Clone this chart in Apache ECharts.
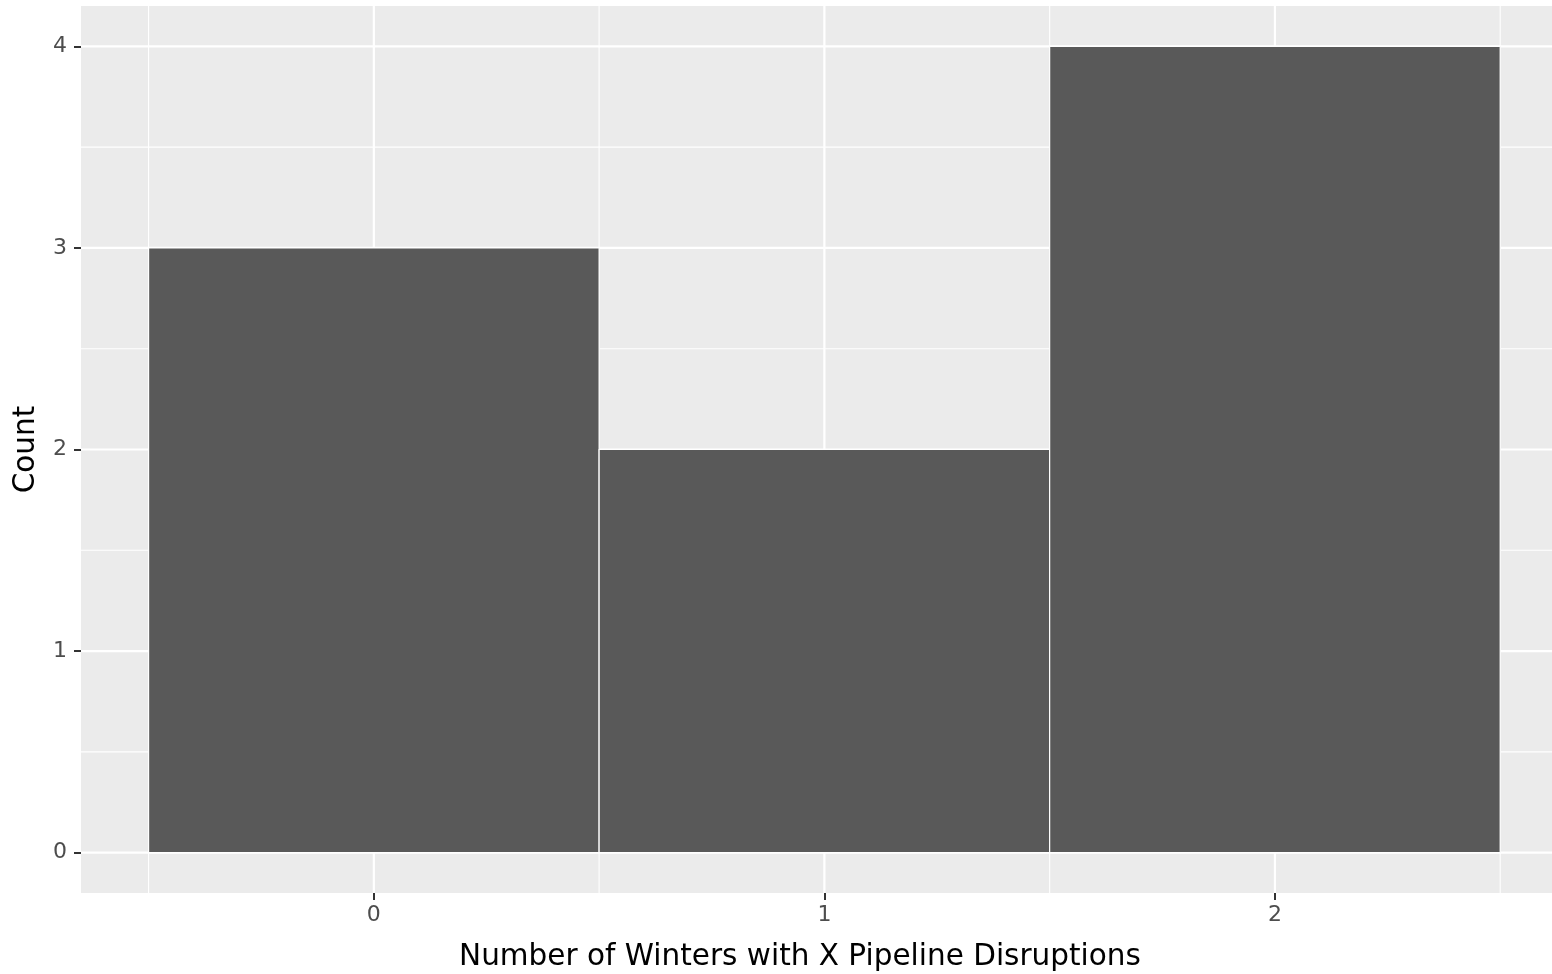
<!DOCTYPE html>
<html>
<head>
<meta charset="utf-8">
<script src="https://cdn.jsdelivr.net/npm/echarts@6/dist/echarts.min.js"></script>
<style>html,body{margin:0;padding:0;background:#fff;}#c{width:1552px;height:974px;}</style>
</head>
<body>
<div id="c"></div>
<script>
// Data
var binStarts = [-0.5, 0.5, 1.5];
var binEnds = [0.5, 1.5, 2.5];
var counts = [3, 2, 4];
var xTicks = [0, 1, 2];
var xMinor = [-0.5, 0.5, 1.5, 2.5];
var yTicks = [0, 1, 2, 3, 4];
var yMinor = [0.5, 1.5, 2.5, 3.5];
var xTitle = 'Number of Winters with X Pipeline Disruptions';
var yTitle = 'Count';

var chart = echarts.init(document.getElementById('c'), null, {renderer: 'canvas'});

function gridSeries(values, vertical, width) {
  return {
    type: 'custom',
    silent: true,
    z: 1,
    clip: true,
    data: values.map(function (v) { return vertical ? [v, 0] : [0, v]; }),
    encode: {x: 0, y: 1},
    renderItem: function (params, api) {
      var cs = params.coordSys;
      var p = api.coord([api.value(0), api.value(1)]);
      var shape = vertical
        ? {x1: p[0], y1: cs.y, x2: p[0], y2: cs.y + cs.height}
        : {x1: cs.x, y1: p[1], x2: cs.x + cs.width, y2: p[1]};
      return {type: 'line', shape: shape, style: {stroke: '#ffffff', lineWidth: width}};
    }
  };
}

var barData = binStarts.map(function (s, i) { return [s, binEnds[i], counts[i]]; });

var font = 'DejaVu Sans';

chart.setOption({
  animation: false,
  grid: {left: 81, top: 6, right: 0, bottom: 81, show: true, backgroundColor: '#ebebeb', borderWidth: 0,
         containLabel: false, outerBoundsMode: 'none'},
  xAxis: {
    type: 'value', min: -0.65, max: 2.615,
    splitLine: {show: false},
    axisLine: {show: false, onZero: false},
    axisTick: {show: true, length: 7, lineStyle: {color: '#333333', width: 2}, customValues: xTicks},
    axisLabel: {customValues: xTicks, color: '#4d4d4d', fontSize: 22, fontFamily: font, margin: 11},
    name: xTitle, nameLocation: 'middle', nameGap: 49,
    nameTextStyle: {color: '#000000', fontSize: 29.5, fontFamily: font, padding: [0, 33, 0, 0]}
  },
  yAxis: {
    type: 'value', min: -0.2, max: 4.2,
    splitLine: {show: false},
    axisLine: {show: false, onZero: false},
    axisTick: {show: true, length: 7, lineStyle: {color: '#333333', width: 2}, customValues: yTicks},
    axisLabel: {customValues: yTicks, color: '#4d4d4d', fontSize: 22, fontFamily: font, margin: 14},
    name: yTitle, nameLocation: 'middle', nameGap: 40, nameRotate: 90,
    nameTextStyle: {color: '#000000', fontSize: 29.5, fontFamily: font}
  },
  series: [
    gridSeries(xMinor, true, 1.1),
    gridSeries(yMinor, false, 1.1),
    gridSeries(xTicks, true, 2.2),
    gridSeries(yTicks, false, 2.2),
    {
      type: 'custom',
      z: 5,
      data: barData,
      encode: {x: [0, 1], y: 2},
      renderItem: function (params, api) {
        var p0 = api.coord([api.value(0), api.value(2)]);
        var p1 = api.coord([api.value(1), 0]);
        return {
          type: 'rect',
          shape: {x: p0[0], y: p0[1], width: p1[0] - p0[0], height: p1[1] - p0[1]},
          style: {fill: '#595959', stroke: '#ffffff', lineWidth: 1.2}
        };
      }
    }
  ]
});
</script>
</body>
</html>
